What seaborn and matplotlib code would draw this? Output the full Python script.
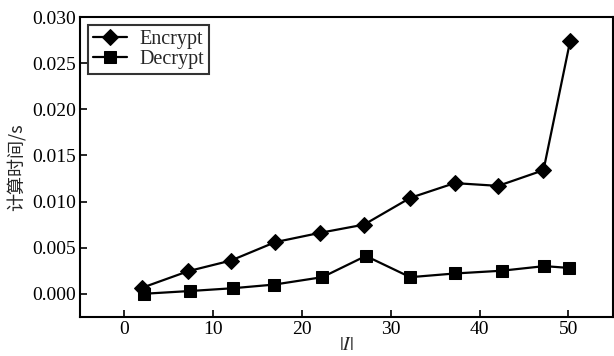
import matplotlib
matplotlib.use("Agg")
import matplotlib.pyplot as plt
import seaborn as sns
import pandas as pd

# data
enc_x = [2, 7.2, 12, 17, 22, 27, 32.2, 37.2, 42.1, 47.2, 50.2]
enc_y = [0.00065, 0.00245, 0.0036, 0.0056, 0.0066, 0.0075, 0.0104, 0.0120, 0.0117, 0.0134, 0.0274]
dec_x = [2.2, 7.4, 12.2, 16.9, 22.3, 27.2, 32.2, 37.2, 42.5, 47.3, 50.1]
dec_y = [0.0000, 0.0003, 0.0006, 0.0010, 0.0018, 0.0041, 0.0018, 0.0022, 0.0025, 0.0030, 0.0028]
series_names = ["Encrypt", "Decrypt"]
x_ticks = [0, 10, 20, 30, 40, 50]
y_ticks = [0.000, 0.005, 0.010, 0.015, 0.020, 0.025, 0.030]

sns.set_style("ticks")
plt.rcParams["font.family"] = ["Liberation Serif", "Noto Sans CJK SC", "DejaVu Sans"]
plt.rcParams["mathtext.fontset"] = "stix"

df = pd.concat([
    pd.DataFrame({"x": enc_x, "y": enc_y, "series": series_names[0]}),
    pd.DataFrame({"x": dec_x, "y": dec_y, "series": series_names[1]}),
])

fig = plt.figure(figsize=(6.14, 3.56), dpi=100)
ax = fig.add_axes([0.130, 0.110, 0.868, 0.842])

sns.lineplot(data=df, x="x", y="y", style="series",
             markers={"Encrypt": "D", "Decrypt": "s"}, dashes=False,
             color="black", linewidth=1.6, markersize=8,
             markeredgecolor="black", markerfacecolor="black",
             sort=False, ax=ax, legend=True)

ax.set_xlim(-5, 55)
ax.set_ylim(-0.0025, 0.030)
ax.set_xticks(x_ticks)
ax.set_yticks(y_ticks)
ax.set_yticklabels([f"{v:.3f}" for v in y_ticks])
ax.tick_params(direction="in", length=5, width=1.2, labelsize=14, colors="black",
               top=False, right=False, pad=3)
for s in ax.spines.values():
    s.set_linewidth(1.5)
    s.set_color("black")
    s.set_visible(True)

ax.set_xlabel(r"$|I|$", fontsize=14, labelpad=-1)
ax.set_ylabel("计算时间/s", fontsize=13, family=["Noto Sans CJK SC", "DejaVu Sans"], labelpad=4)

leg = ax.legend(loc="upper left", fontsize=14.5, frameon=True, fancybox=False,
                edgecolor="black", borderpad=0.25, labelspacing=0.05,
                handlelength=1.7, handletextpad=0.6, borderaxespad=0.4)
leg.get_frame().set_linewidth(1.5)
for h in leg.legend_handles:
    h.set_color("black")
    h.set_markersize(8)

fig.savefig("out.png", dpi=100)
